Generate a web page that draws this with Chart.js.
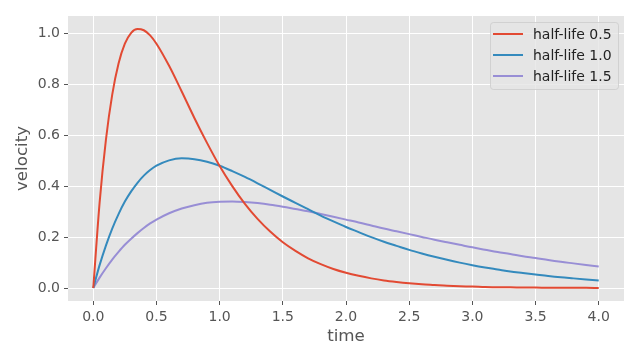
<!DOCTYPE html>
<html lang="en">
<head>
<meta charset="UTF-8">
<title>velocity vs time</title>
<style>
  html,body{margin:0;background:#fff}
  #wrap{width:640px;height:360px}
</style>
</head>
<body>
<div id="wrap"><canvas id="chart" width="640" height="360"></canvas></div>
<script src="https://cdn.jsdelivr.net/npm/chart.js@4.4.0"></script>
<script>
/* ---------- data ---------- */
const times = [0,0.05,0.1,0.15,0.2,0.25,0.3,0.35,0.4,0.45,0.5,0.6,0.7,0.8,0.9,1.0,
  1.1,1.2,1.3,1.4,1.5,1.6,1.7,1.8,1.9,2.0,2.1,2.2,2.3,2.4,2.5,2.6,2.7,2.8,2.9,3.0,
  3.1,3.2,3.3,3.4,3.5,3.6,3.7,3.8,3.9,4.0];
const halfLife05 = [0,0.335,0.583,0.761,0.883,0.961,1.004,1.019,1.014,0.994,0.961,0.874,0.773,0.669,0.571,0.480,
  0.401,0.331,0.272,0.222,0.180,0.146,0.117,0.094,0.075,0.060,0.048,0.038,0.030,0.024,0.019,0.015,0.012,0.009,0.007,0.006,
  0.004,0.003,0.003,0.002,0.002,0.001,0.001,0.001,0.001,0.000];
const halfLife10 = [0,0.090,0.167,0.234,0.291,0.340,0.380,0.414,0.442,0.464,0.481,0.502,0.510,0.507,0.497,0.481,
  0.460,0.437,0.412,0.386,0.360,0.335,0.310,0.285,0.262,0.240,0.220,0.200,0.182,0.166,0.150,0.136,0.123,0.111,0.100,0.090,
  0.081,0.073,0.065,0.059,0.053,0.047,0.042,0.038,0.034,0.030];
const halfLife15 = [0,0.041,0.078,0.112,0.142,0.170,0.194,0.216,0.236,0.254,0.269,0.294,0.313,0.326,0.335,0.339,
  0.340,0.338,0.334,0.328,0.320,0.311,0.302,0.291,0.280,0.269,0.258,0.246,0.234,0.223,0.212,0.201,0.190,0.180,0.170,0.160,
  0.151,0.142,0.134,0.125,0.118,0.110,0.103,0.097,0.091,0.085];
const seriesNames = ['half-life 0.5','half-life 1.0','half-life 1.5'];
const xTicks = [0,0.5,1,1.5,2,2.5,3,3.5,4];
const yTicks = [0,0.2,0.4,0.6,0.8,1.0];

/* ---------- style ---------- */
const colors = ['#E24A33','#348ABD','#988ED5'];
const FONT = 'DejaVu Sans';
const pts = ys => times.map((t,i)=>({x:t,y:ys[i]}));

/* gray panel behind the plot */
const panel = {
  id:'panel',
  beforeDraw(c){
    const a=c.chartArea, g=c.ctx;
    g.save(); g.fillStyle='#E5E5E5';
    g.fillRect(a.left,a.top,a.right-a.left,a.bottom-a.top); g.restore();
  }
};

/* legend box inside the plot, upper right */
const boxLegend = {
  id:'boxLegend',
  afterDatasetsDraw(c){
    const g=c.ctx, a=c.chartArea;
    const w=128, h=67, x=a.right-6-w, y=a.top+6;
    g.save();
    g.beginPath(); g.roundRect(x+0.5,y+0.5,w,h,3);
    g.fillStyle='rgba(229,229,229,0.8)'; g.fill();
    g.strokeStyle='rgba(204,204,204,0.8)'; g.lineWidth=1; g.stroke();
    g.font='14px "'+FONT+'"'; g.textBaseline='middle'; g.fillStyle='#222';
    c.data.datasets.forEach((d,i)=>{
      const yy=y+12+i*21;
      g.strokeStyle=d.borderColor; g.lineWidth=2;
      g.beginPath(); g.moveTo(x+3,yy); g.lineTo(x+33,yy); g.stroke();
      g.fillText(d.label,x+43,yy+1);
    });
    g.restore();
  }
};

new Chart(document.getElementById('chart'),{
  type:'line',
  data:{datasets:[halfLife05,halfLife10,halfLife15].map((ys,i)=>({
    label:seriesNames[i], data:pts(ys), borderColor:colors[i],
    borderWidth:2, pointRadius:0, fill:false, cubicInterpolationMode:'monotone'
  }))},
  options:{
    responsive:false, animation:false, devicePixelRatio:1,
    layout:{padding:{left:0,right:16,top:16,bottom:0}},
    plugins:{legend:{display:false},tooltip:{enabled:false}},
    scales:{
      x:{type:'linear',min:-0.2,max:4.2,
        afterBuildTicks:s=>{s.ticks=xTicks.map(v=>({value:v}));},
        afterFit:s=>{s.height=59;},
        grid:{color:'#fff',lineWidth:1,tickColor:'#555',tickLength:4},
        border:{display:false},
        ticks:{color:'#555',padding:4,maxRotation:0,font:{family:FONT,size:14},
          callback:v=>v.toFixed(1)},
        title:{display:true,text:'time',color:'#555',font:{family:FONT,size:16.7},padding:{top:0,bottom:13}}
      },
      y:{type:'linear',min:-0.051,max:1.070,
        afterBuildTicks:s=>{s.ticks=yTicks.map(v=>({value:v}));},
        afterFit:s=>{s.width=68;},
        grid:{color:'#fff',lineWidth:1,tickColor:'#555',tickLength:4},
        border:{display:false},
        ticks:{color:'#555',padding:4,font:{family:FONT,size:14},
          callback:v=>v.toFixed(1)},
        title:{display:true,text:'velocity',color:'#555',font:{family:FONT,size:16.7},padding:{top:13,bottom:0}}
      }
    }
  },
  plugins:[panel,boxLegend]
});
</script>
</body>
</html>
